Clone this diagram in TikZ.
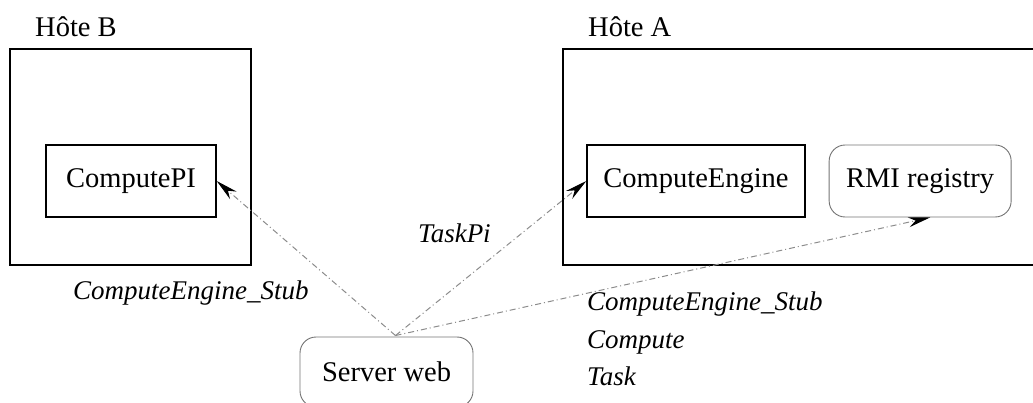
\documentclass[tikz,border=0pt]{standalone}
\usepackage{fontspec}
\setmainfont{Liberation Serif}
\usepackage{tikz}
\usetikzlibrary{positioning, arrows.meta}

\begin{document}
\begin{tikzpicture}[x=1pt, y=1pt, font=\fontsize{28.5}{37}\selectfont,
  host/.style={rectangle, draw=black, line width=1.4pt, inner sep=0pt},
  comp/.style={rectangle, draw=black, line width=1.4pt, minimum height=72pt, inner sep=0pt},
  service/.style={rectangle, rounded corners=16pt, draw=black!55, line width=0.9pt, minimum height=72pt, inner sep=0pt},
  flow/.style={draw=black!45, line width=1pt, dash pattern=on 6pt off 3pt on 1pt off 3pt, -{Stealth[length=22pt, width=10pt, black]}},
  msg/.style={font=\fontsize{27}{37.5}\selectfont\itshape, inner sep=0pt, align=left}]
\useasboundingbox (0,0) rectangle (1033,-403);
%


% HOST B
\node [host, minimum width=241pt, minimum height=216pt] (hostB) at (130.5,-157) {};
\node [inner sep=0pt, anchor=west] (labelB) at (35,-27) {Hôte B};
% ComputePI
\node [comp, minimum width=170pt] (pi) at (131,-181) {ComputePI};

% HOST A
\node [host, minimum width=480pt, minimum height=216pt] (hostA) at (803,-157) {};
\node [inner sep=0pt, anchor=west] (labelA) at (588,-27) {Hôte A};
% ComputeEngine
\node [comp, minimum width=218pt] (engine) at (696,-181) {ComputeEngine};
% RMI registry
\node [service, minimum width=182pt, right=23pt of engine] (rmi) {RMI registry};

% SERVER WEB
\node [service, minimum width=173pt, minimum height=70pt] (web) at (386.5,-372) {Server web};
\coordinate (src) at ([xshift=9pt, yshift=1pt]web.north);

% classes sent
\node [msg, anchor=west] (stubB) at (73,-293) {ComputeEngine\_Stub};
\node [msg, anchor=west] (task) at (418,-233) {TaskPi};
\node [msg, anchor=north west] (stubA) at (587,-292) {ComputeEngine\_Stub\\Compute\\Task};



\draw [flow] (src) -- (pi.east);
\draw [flow] (src) -- (engine.west);
\draw [flow] (src) -- ([xshift=10pt]rmi.south);
\end{tikzpicture}
\end{document}
